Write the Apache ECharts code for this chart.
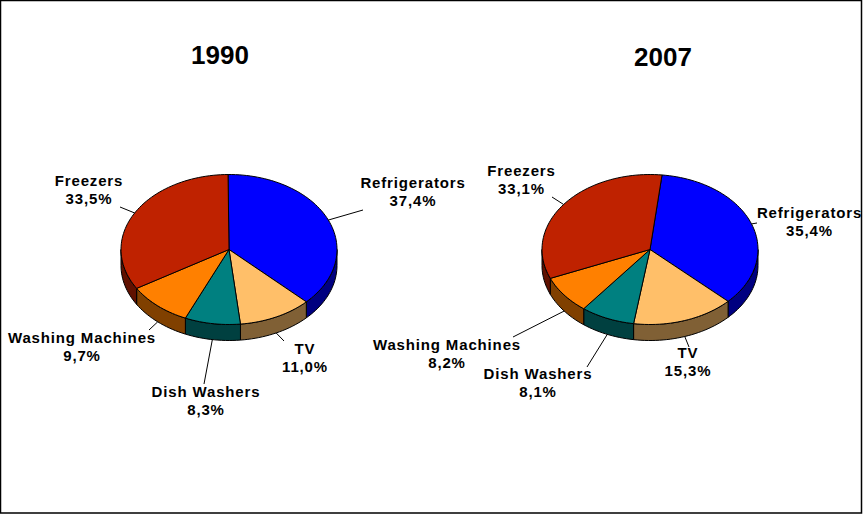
<!DOCTYPE html>
<html>
<head>
<meta charset="utf-8">
<style>
  html, body { margin: 0; padding: 0; background: #fff; }
  #main { width: 863px; height: 514px; }
  #main text { letter-spacing: 0.85px; }
  #main text[style*="26px"] { letter-spacing: 0; }
</style>
<script src="https://cdn.jsdelivr.net/npm/echarts@6/dist/echarts.min.js"></script>
</head>
<body>
<div id="main"></div>
<script>
const categories = ['Refrigerators', 'TV', 'Dish Washers', 'Washing Machines', 'Freezers']
const values1990 = [37.4, 11.0, 8.3, 9.7, 33.5]
const values2007 = [35.4, 15.3, 8.1, 8.2, 33.1]
const topColors = ['#0000ff', '#ffbf69', '#008080', '#ff8000', '#bf2200']
const wallColors = ['#000080', '#806035', '#004040', '#804000', '#601100']

// layout of the two discs
const rx = 108
const ry = 75
const depth = 16
const centerY = 249.5
const center1990 = 229
const center2007 = 650
const start1990 = -0.5
const start2007 = 6.4

// label centres and leader line ends, in slice order
const labels1990 = [[413, 191], [305, 357], [206, 400.5], [82, 346.5], [89, 189.5]]
const labels2007 = [[809.5, 221], [688, 361.5], [538, 382.5], [447, 353.5], [521.5, 179.5]]
const leaders1990 = [[363, 210], [284, 341], [204, 384], [149, 330], [120, 207]]
const leaders2007 = [[757, 223], [689, 347], [587, 367], [513, 337], [552, 197]]

const labelFont = 'bold 15px "Liberation Sans", Arial, sans-serif'

function rimPoint(cx, deg, dy) {
  const a = deg * Math.PI / 180
  return [cx + rx * Math.sin(a), centerY - ry * Math.cos(a) + (dy || 0)]
}

function arc(cx, from, to, dy) {
  const pts = []
  const n = Math.max(2, Math.ceil(Math.abs(to - from) / 2))
  for (let i = 0; i <= n; i++) {
    pts.push(rimPoint(cx, from + (to - from) * i / n, dy))
  }
  return pts
}

function makeSeries(values, cx, startDeg, labelPos, leaderEnds) {
  const total = values.reduce((a, b) => a + b, 0)
  return {
    type: 'custom',
    coordinateSystem: 'none',
    silent: true,
    animation: false,
    data: values.map((v, i) => ({ name: categories[i], value: v })),
    renderItem(params, api) {
      const i = params.dataIndex
      const before = values.slice(0, i).reduce((a, b) => a + b, 0)
      const a0 = startDeg + before / total * 360
      const a1 = a0 + api.value(0) / total * 360
      const mid = (a0 + a1) / 2
      const children = []

      // visible part of the side wall: lower half of the disc only
      const w0 = Math.max(a0, 90)
      const w1 = Math.min(a1, 270)
      if (w1 > w0) {
        children.push({
          type: 'polygon',
          shape: { points: arc(cx, w0, w1, 0).concat(arc(cx, w1, w0, depth)) },
          style: { fill: wallColors[i], stroke: '#000', lineWidth: 1 }
        })
      }

      children.push({
        type: 'polygon',
        shape: { points: [[cx, centerY]].concat(arc(cx, a0, a1, 0)) },
        style: { fill: topColors[i], stroke: '#000', lineWidth: 1 }
      })

      const lower = mid > 90 && mid < 270
      const from = rimPoint(cx, mid, lower ? depth : 0)
      children.push({
        type: 'line',
        shape: { x1: from[0], y1: from[1], x2: leaderEnds[i][0], y2: leaderEnds[i][1] },
        style: { stroke: '#000', lineWidth: 1 }
      })

      children.push({
        type: 'text',
        style: {
          x: labelPos[i][0],
          y: labelPos[i][1],
          text: categories[i] + '\n' + api.value(0).toFixed(1).replace('.', ',') + '%',
          font: labelFont,
          lineHeight: 18,
          fill: '#000',
          align: 'center',
          verticalAlign: 'middle'
        }
      })
      return { type: 'group', children }
    }
  }
}

const chart = echarts.init(document.getElementById('main'), null, { renderer: 'svg' })
chart.setOption({
  backgroundColor: '#fff',
  animation: false,
  title: [
    {
      text: '1990', left: 215, top: 37, textAlign: 'center',
      textStyle: { fontFamily: '"Liberation Sans", Arial, sans-serif', fontWeight: 'bold', fontSize: 26, color: '#000' }
    },
    {
      text: '2007', left: 658, top: 39, textAlign: 'center',
      textStyle: { fontFamily: '"Liberation Sans", Arial, sans-serif', fontWeight: 'bold', fontSize: 26, color: '#000' }
    }
  ],
  graphic: [{
    type: 'rect',
    silent: true,
    shape: { x: 0.5, y: 0.5, width: 861, height: 512.5 },
    style: { fill: 'none', stroke: '#000', lineWidth: 1.5 }
  }],
  series: [
    makeSeries(values1990, center1990, start1990, labels1990, leaders1990),
    makeSeries(values2007, center2007, start2007, labels2007, leaders2007)
  ]
})
</script>
</body>
</html>
